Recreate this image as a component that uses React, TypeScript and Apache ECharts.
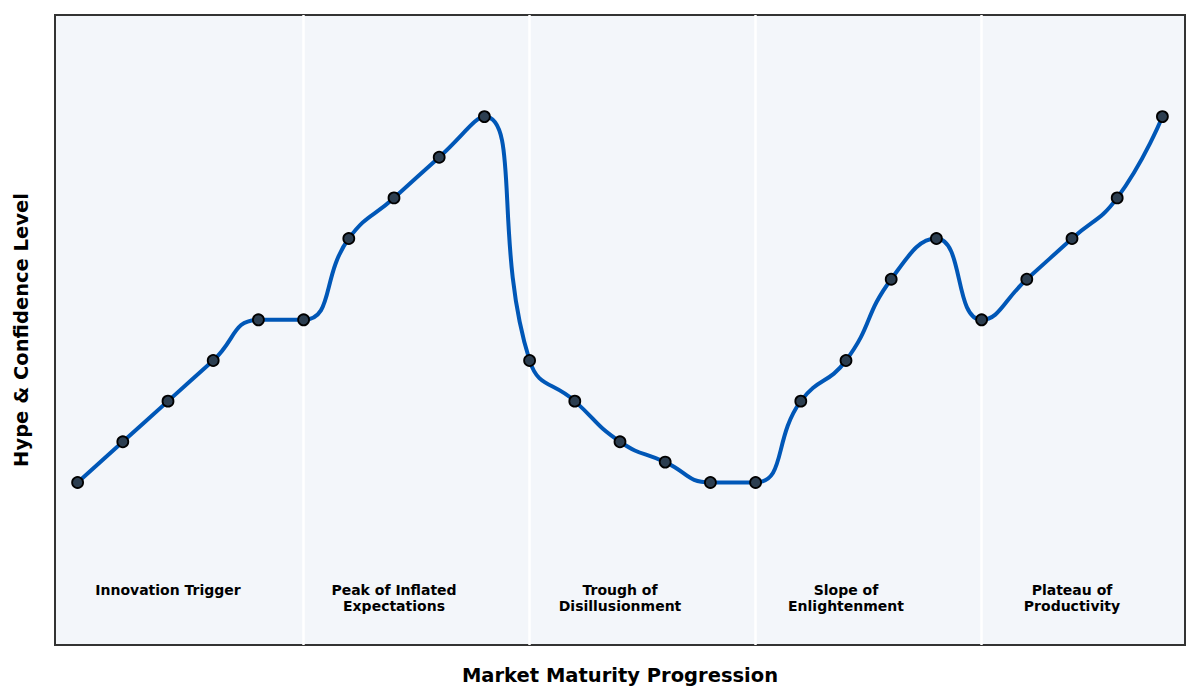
import React, { useEffect, useRef } from "react";
import * as echarts from "echarts";

// position along the maturity axis (one category per sample)
const steps = Array.from({ length: 25 }, (_, i) => `S${i + 1}`);

// hype / confidence level at each step
const hypeLevels = [
  20, 25, 30, 35, 40, 40, 50, 55, 60, 65, 35, 30, 25, 22.5, 20, 20, 30, 35, 45,
  50, 40, 45, 50, 55, 65,
];

// phase names and the step where each is centred
const phaseNames = [
  "Innovation Trigger",
  "Peak of Inflated\nExpectations",
  "Trough of\nDisillusionment",
  "Slope of\nEnlightenment",
  "Plateau of\nProductivity",
];
const phaseCenters = ["S3", "S8", "S13", "S18", "S23"];
const phaseBounds = ["S6", "S11", "S16", "S21"];
const phaseLabelLevel = 7.8;

const FONT = "DejaVu Sans";

const App = () => {
  const chartRef = useRef<HTMLDivElement | null>(null);

  useEffect(() => {
    if (!chartRef.current) return;
    const myChart = echarts.init(chartRef.current, null, { renderer: "svg" });

    const option = {
      animation: false,
      textStyle: { fontFamily: FONT },
      grid: {
        left: 55,
        right: 15,
        top: 15,
        bottom: 55,
        show: true,
        backgroundColor: "#f3f6fa",
        borderColor: "#333333",
        borderWidth: 2,
      },
      xAxis: {
        type: "category",
        data: steps,
        boundaryGap: true,
        name: "Market Maturity Progression",
        nameLocation: "middle",
        nameGap: 20,
        nameTextStyle: {
          fontFamily: FONT,
          fontWeight: "bold",
          fontSize: 19.5,
          color: "#000",
        },
        axisLine: { show: false },
        axisTick: { show: false },
        axisLabel: { show: false },
        splitLine: { show: false },
      },
      yAxis: {
        type: "value",
        min: 0,
        max: 77.5,
        name: "Hype & Confidence Level",
        nameLocation: "middle",
        nameGap: 24,
        nameTextStyle: {
          fontFamily: FONT,
          fontWeight: "bold",
          fontSize: 19.5,
          color: "#000",
        },
        axisLine: { show: false },
        axisTick: { show: false },
        axisLabel: { show: false },
        splitLine: { show: false },
      },
      series: [
        {
          name: "phases",
          type: "scatter",
          z: 1,
          silent: true,
          symbolSize: 0,
          itemStyle: { opacity: 1 },
          data: phaseCenters.map((c, i) => ({
            value: [c, phaseLabelLevel],
            name: phaseNames[i],
          })),
          label: {
            show: true,
            position: "bottom",
            distance: 0,
            formatter: (p: any) => p.name,
            fontFamily: FONT,
            fontWeight: "bold",
            fontSize: 14,
            lineHeight: 16,
            color: "#000000",
            opacity: 1,
            textBorderWidth: 0,
            align: "center",
          },
          markLine: {
            silent: true,
            z: 1,
            symbol: "none",
            label: { show: false },
            lineStyle: { color: "#ffffff", width: 2.5, type: "solid" },
            data: phaseBounds.map((b) => ({ xAxis: b })),
          },
        },
        {
          name: "hype",
          type: "line",
          z: 3,
          smooth: 0.5,
          data: hypeLevels,
          symbol: "circle",
          symbolSize: 11,
          lineStyle: { color: "#0057b7", width: 4 },
          itemStyle: {
            color: "#2c3e50",
            borderColor: "#000000",
            borderWidth: 1.8,
          },
        },
      ],
    };

    myChart.setOption(option);
    return () => {
      myChart.dispose();
    };
  }, []);

  return (
    <div
      ref={chartRef}
      style={{ position: "absolute", left: 0, top: 0, width: "1200px", height: "700px", background: "#fff" }}
    ></div>
  );
};

export default App;
